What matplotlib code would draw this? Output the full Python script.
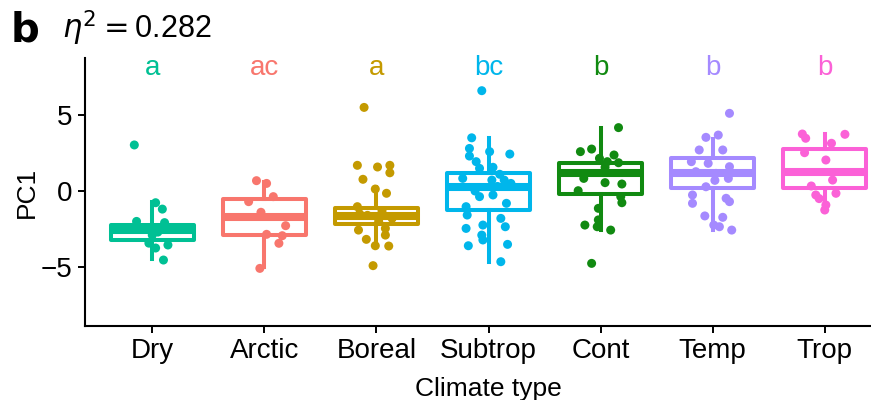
import numpy as np
import matplotlib.pyplot as plt

plt.rcParams['font.family'] = ['Liberation Sans', 'DejaVu Sans']

groups = ["Dry", "Arctic", "Boreal", "Subtrop", "Cont", "Temp", "Trop"]
colors = ["#00C094", "#F8766D", "#C49A00", "#00B6EB", "#118A11", "#A58AFF", "#FB61D7"]
letters = ["a", "ac", "a", "bc", "b", "b", "b"]

# box stats: whisker low, q1, median, q3, whisker high
whislo = [-4.5, -4.98, -3.62, -4.65, -2.57, -2.57, -0.9]
q1 = [-3.2, -2.91, -2.14, -1.25, -0.18, 0.22, 0.18]
med = [-2.55, -1.71, -1.64, 0.24, 1.21, 1.16, 1.25]
q3 = [-2.22, -0.51, -1.09, 1.18, 1.81, 2.15, 2.78]
whishi = [-0.7, 0.61, 0.28, 3.47, 4.12, 3.4, 3.73]

# individual points (value, jitter offset in category units)
pts_dry = [3.03, -0.77, -1.19, -2.0, -2.08, -3.43, -3.75, -3.55, -4.54, -2.4, -2.7, -2.9]
jit_dry = [-0.16, 0.03, 0.09, -0.14, 0.11, -0.03, 0.03, 0.14, 0.10, -0.08, 0.05, 0.0]
pts_arc = [0.68, 0.5, -0.37, -0.7, -1.4, -2.28, -2.85, -2.94, -3.44, -5.09]
jit_arc = [-0.07, 0.02, 0.08, -0.14, -0.03, 0.19, 0.02, 0.16, 0.13, -0.04]
pts_bor = [5.5, 1.69, 1.58, 1.69, 1.2, 0.77, 0.13, -0.15, -1.03, -2.57, -2.46, -3.18,
           -2.9, -3.6, -3.62, -4.91, -1.3, -1.6, -1.8, -2.0, -1.5]
jit_bor = [-0.11, -0.17, 0.01, 0.12, 0.12, -0.12, -0.01, 0.09, -0.17, -0.16, 0.08, -0.09,
           0.08, -0.01, 0.11, -0.03, 0.05, -0.08, 0.14, 0.02, -0.15]
pts_sub = [6.6, 3.5, 2.8, 2.3, 2.59, 2.43, 1.93, 1.56, 1.49, 1.1, 0.72, 0.83, 0.72,
           -0.37, -0.26, -0.81, -1.03, -1.58, -1.8, -2.35, -2.46, -2.24, -3.22, -3.6,
           -3.51, -4.65, -2.9, 0.3, 0.0, 0.5]
jit_sub = [-0.06, -0.15, -0.17, -0.17, 0.01, 0.19, -0.11, 0.04, -0.08, 0.10, 0.03,
           -0.23, 0.14, -0.08, 0.04, 0.16, -0.20, -0.19, 0.11, 0.15, -0.20, -0.05,
           -0.05, -0.18, 0.17, 0.11, -0.06, 0.08, -0.12, 0.20]
pts_con = [4.17, 2.76, 2.59, 2.37, 2.15, 1.93, 1.86, 1.56, 0.83, 0.55, 0.46, 0.02,
           -0.37, -0.77, -1.14, -2.24, -2.35, -2.57, -4.76, -1.9]
jit_con = [0.16, -0.08, -0.18, 0.12, -0.01, 0.06, 0.16, 0.04, -0.15, 0.04, 0.19,
           -0.20, 0.18, 0.19, -0.02, -0.14, -0.03, 0.09, -0.08, -0.02]
pts_tem = [5.11, 3.53, 3.68, 2.7, 2.7, 1.93, 1.6, 1.82, 1.27, 1.16, 0.83, 0.28,
           -0.26, -0.48, -0.81, -0.7, -1.64, -1.73, -2.24, -2.35, -2.57, 0.7]
jit_tem = [0.15, -0.06, 0.05, 0.09, -0.12, -0.19, 0.15, -0.04, -0.15, 0.03, 0.14,
           -0.06, -0.18, 0.12, -0.18, 0.15, -0.07, 0.09, 0.01, 0.06, 0.17, 0.02]
pts_tro = [3.75, 3.73, 3.47, 3.14, 2.52, 2.04, 0.72, 0.33, -0.15, -0.26, -0.92, -1.25, -0.5]
jit_tro = [-0.20, 0.18, -0.17, 0.06, -0.18, 0.01, 0.07, -0.12, 0.10, -0.08, 0.01, 0.0, -0.05]

points = [pts_dry, pts_arc, pts_bor, pts_sub, pts_con, pts_tem, pts_tro]
jitters = [jit_dry, jit_arc, jit_bor, jit_sub, jit_con, jit_tem, jit_tro]

fig = plt.figure(figsize=(8.71, 4.0), dpi=100)
ax = fig.add_axes([85 / 871, 74 / 400, 807 / 871, 268 / 400])

for i, g in enumerate(groups):
    c = colors[i]
    st = [dict(whislo=whislo[i], q1=q1[i], med=med[i], q3=q3[i], whishi=whishi[i],
               fliers=[], label=g)]
    ax.bxp(st, positions=[i], widths=0.74, patch_artist=True, showcaps=False,
           boxprops=dict(facecolor="white", edgecolor=c, linewidth=2.9, joinstyle="round"),
           whiskerprops=dict(color=c, linewidth=2.9),
           medianprops=dict(color=c, linewidth=5.8, solid_capstyle="butt"),
           manage_ticks=False, zorder=2)
    ax.scatter(i + np.array(jitters[i]), points[i], s=42, color=c, edgecolors="none", zorder=3)
    ax.text(i, 8.1, letters[i], color=c, ha="center", va="center", fontsize=20)

ax.set_xlim(-0.6, 6.6)
ax.set_ylim(-8.88, 8.75)
ax.set_xticks(range(len(groups)))
ax.set_xticklabels(groups)
ax.set_yticks([-5, 0, 5])
ax.tick_params(labelsize=20, width=1.4, length=5, color="black", pad=4)
ax.spines[["top", "right"]].set_visible(False)
ax.spines[["left", "bottom"]].set_linewidth(1.5)
ax.set_ylabel("PC1", fontsize=19, labelpad=1)
ax.set_xlabel("Climate type", fontsize=19, labelpad=9)

fig.text(11 / 871, 1 - 31 / 400, "b", fontsize=29, fontweight="bold",
         family="DejaVu Sans", va="center")
fig.text(62 / 871, 1 - 28 / 400, r"$\eta^2 = $0.282", fontsize=22, va="center")

fig.savefig("out.png", dpi=100)
